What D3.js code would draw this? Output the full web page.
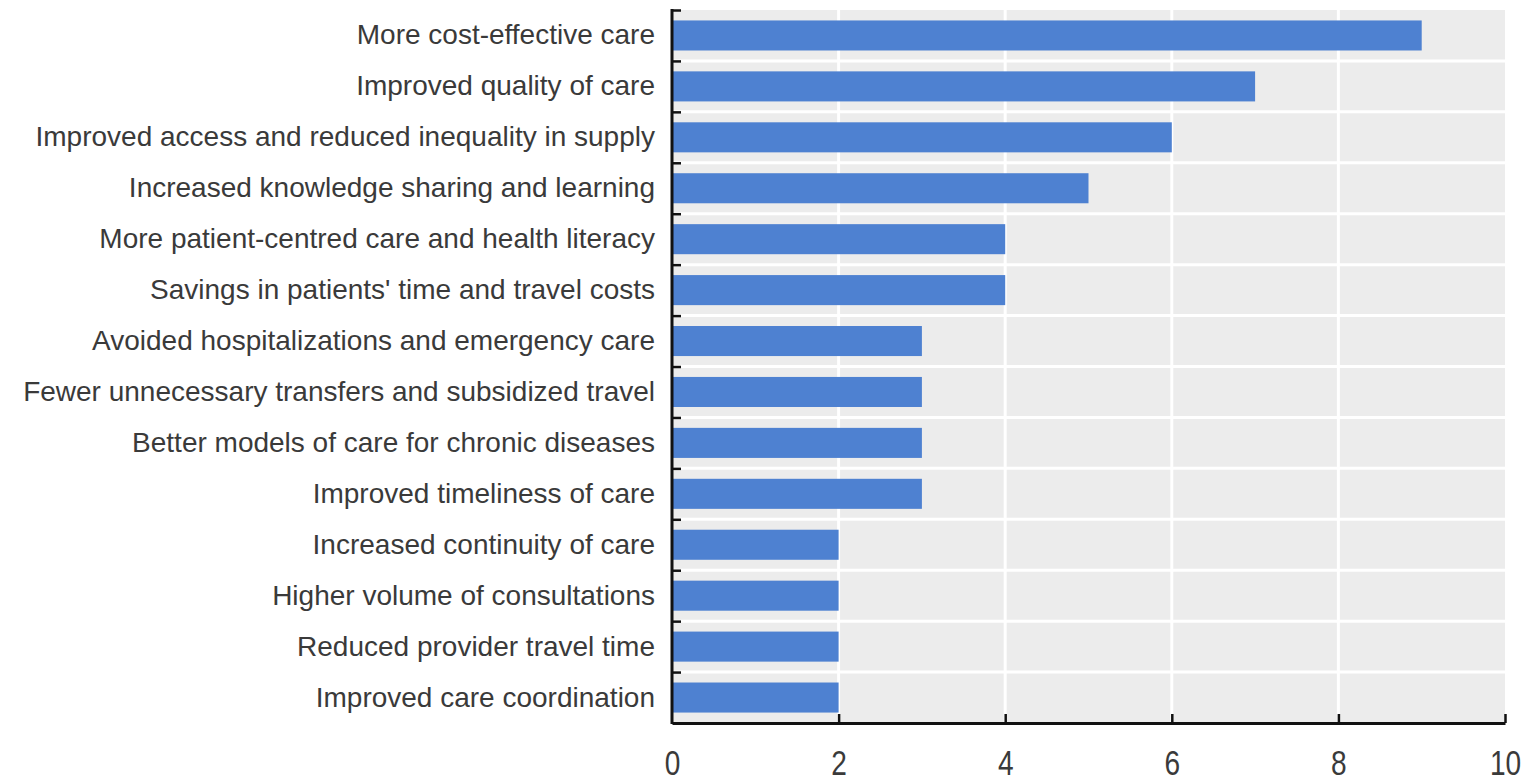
<!DOCTYPE html>
<html>
<head>
<meta charset="utf-8">
<script src="https://cdn.jsdelivr.net/npm/d3@7"></script>
<style>
  html, body { margin: 0; padding: 0; background: #ffffff; }
  svg { display: block; }
</style>
</head>
<body>
<svg id="chart" width="1537" height="781"></svg>
<script>
// Reported benefits of telemedicine: number of mentions per benefit
const categories = [
  "More cost-effective care",
  "Improved quality of care",
  "Improved access and reduced inequality in supply",
  "Increased knowledge sharing and learning",
  "More patient-centred care and health literacy",
  "Savings in patients' time and travel costs",
  "Avoided hospitalizations and emergency care",
  "Fewer unnecessary transfers and subsidized travel",
  "Better models of care for chronic diseases",
  "Improved timeliness of care",
  "Increased continuity of care",
  "Higher volume of consultations",
  "Reduced provider travel time",
  "Improved care coordination"
];
const counts = [9, 7, 6, 5, 4, 4, 3, 3, 3, 3, 2, 2, 2, 2];
const xTicks = [0, 2, 4, 6, 8, 10];

const svg = d3.select("#chart");
const margin = { top: 10, right: 32, bottom: 58, left: 672 };
const W = 1537, H = 781;
const innerW = W - margin.left - margin.right;
const innerH = H - margin.top - margin.bottom;

const g = svg.append("g").attr("transform", `translate(${margin.left},${margin.top})`);

const x = d3.scaleLinear().domain([0, 10]).range([0, innerW]);
const y = d3.scaleBand().domain(categories).range([0, innerH]).paddingInner(0.41).paddingOuter(0.205);
const yEdge = d3.scaleLinear().domain([0, categories.length]).range([0, innerH]);

// plot background
g.append("rect")
  .attr("x", 0).attr("y", 0)
  .attr("width", innerW).attr("height", innerH)
  .attr("fill", "#ececec");

// white gridlines: vertical at value ticks, horizontal between categories
g.append("g").selectAll("line.v")
  .data(xTicks.filter(d => d > 0 && d < 10))
  .join("line")
  .attr("x1", d => x(d)).attr("x2", d => x(d))
  .attr("y1", 0).attr("y2", innerH)
  .attr("stroke", "#ffffff").attr("stroke-width", 3);

g.append("g").selectAll("line.h")
  .data(d3.range(1, categories.length))
  .join("line")
  .attr("x1", 0).attr("x2", innerW)
  .attr("y1", d => yEdge(d)).attr("y2", d => yEdge(d))
  .attr("stroke", "#ffffff").attr("stroke-width", 3);

// bars
g.append("g").selectAll("rect")
  .data(categories.map((c, i) => ({ c, v: counts[i] })))
  .join("rect")
  .attr("x", x(0))
  .attr("y", d => y(d.c))
  .attr("width", d => x(d.v) - x(0))
  .attr("height", y.bandwidth())
  .attr("fill", "#4e81d1");

// category labels
const yAxis = g.append("g")
  .call(d3.axisLeft(y).tickSize(0).tickPadding(17));
yAxis.select(".domain").remove();
yAxis.selectAll("text")
  .attr("font-family", "'Liberation Sans', Arial, sans-serif")
  .attr("font-size", 28)
  .attr("fill", "#3a3a3a");

// left axis line with inward ticks at category boundaries
const leftAxis = g.append("g")
  .call(d3.axisLeft(yEdge).tickValues(d3.range(0, categories.length)).tickSize(-9).tickFormat(""));
leftAxis.select(".domain").remove();
leftAxis.selectAll("line").attr("stroke", "#111").attr("stroke-width", 2.5);
g.append("line")
  .attr("x1", 0).attr("x2", 0).attr("y1", -1).attr("y2", innerH + 1)
  .attr("stroke", "#111").attr("stroke-width", 3);

// bottom axis with inward ticks
const xAxis = g.append("g")
  .attr("transform", `translate(0,${innerH})`)
  .call(d3.axisBottom(x).tickValues(xTicks).tickSize(-9).tickSizeOuter(0).tickPadding(28));
xAxis.select(".domain").attr("stroke", "#111").attr("stroke-width", 3);
xAxis.selectAll(".tick line").attr("stroke", "#111").attr("stroke-width", 2.5)
  .attr("display", d => d === 0 ? "none" : null);
xAxis.selectAll(".tick text")
  .attr("font-family", "'Liberation Sans', Arial, sans-serif")
  .attr("font-size", 36)
  .attr("fill", "#3a3a3a")
  .attr("dy", "0.71em")
  .attr("y", 0)
  .attr("transform", "translate(0,26) scale(0.78,1)");
</script>
</body>
</html>
